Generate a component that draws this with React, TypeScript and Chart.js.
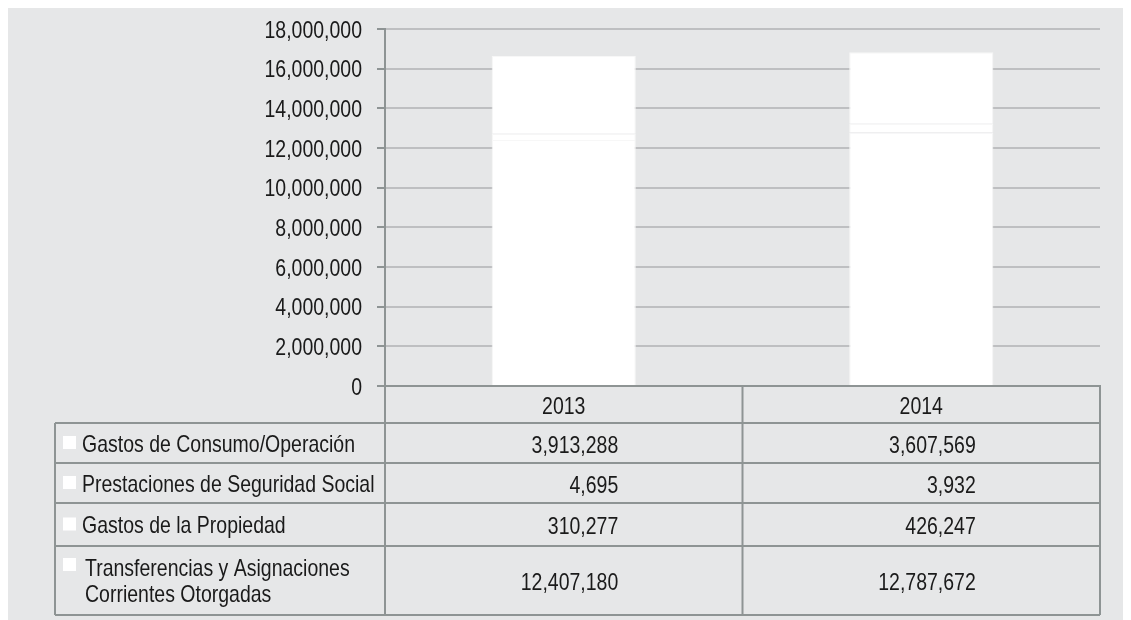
import React, { useEffect, useRef } from "react";
import { Chart, registerables } from "chart.js";

Chart.register(...registerables);

const categories = ["2013", "2014"];
const seriesNames = [
  "Gastos de Consumo/Operación",
  "Prestaciones de Seguridad Social",
  "Gastos de la Propiedad",
  "Transferencias y Asignaciones\nCorrientes Otorgadas",
];
const gastosConsumo = [3913288, 3607569];
const prestaciones = [4695, 3932];
const gastosPropiedad = [310277, 426247];
const transferencias = [12407180, 12787672];
const seriesValues = [gastosConsumo, prestaciones, gastosPropiedad, transferencias];
const yMax = 18000000;
const yStep = 2000000;

const FONT_FAMILY = "'Liberation Sans', Arial, sans-serif";
const FONT_SIZE = 24;
const SX = 0.812; // narrow (condensed) rendering
const TEXT = "#1a1a1a";
const BG = "#e6e7e8";
const GRID = "#bebfc1";
const AXIS = "#8e9494";

const fmt = (v: number) => v.toLocaleString("en-US");

// table geometry (px relative to chart area bottom)
const rowHeights = [37, 40, 40, 43, 69];
const TABLE_LEFT = 47;

function drawNarrow(ctx: any, text: string, x: number, y: number, align: string) {
  ctx.save();
  ctx.translate(x, y);
  ctx.scale(SX, 1);
  ctx.textAlign = align;
  ctx.fillText(text, 0, 0);
  ctx.restore();
}

const tablePlugin = {
  id: "dataTable",
  afterDraw(chart: any) {
    const ctx = chart.ctx;
    const area = chart.chartArea;
    const xs = chart.scales.x;
    const yScale = chart.scales.y;
    const top = area.bottom;
    const ys: number[] = [top];
    rowHeights.forEach((h) => ys.push(ys[ys.length - 1] + h));
    const bottom = ys[ys.length - 1];
    const midX = (xs.getPixelForValue(0) + xs.getPixelForValue(1)) / 2;
    ctx.save();
    ctx.strokeStyle = AXIS;
    ctx.lineWidth = 2;
    ctx.beginPath();
    ctx.moveTo(area.left, top);
    ctx.lineTo(area.right, top);
    for (let i = 1; i < ys.length; i++) {
      ctx.moveTo(TABLE_LEFT, ys[i]);
      ctx.lineTo(area.right, ys[i]);
    }
    ctx.moveTo(area.left, area.top);
    ctx.lineTo(area.left, bottom);
    ctx.moveTo(midX, top);
    ctx.lineTo(midX, bottom);
    ctx.moveTo(area.right, top);
    ctx.lineTo(area.right, bottom);
    ctx.moveTo(TABLE_LEFT, ys[1]);
    ctx.lineTo(TABLE_LEFT, bottom);
    ctx.stroke();

    ctx.font = `${FONT_SIZE}px ${FONT_FAMILY}`;
    ctx.fillStyle = TEXT;
    ctx.textBaseline = "middle";

    // y tick labels
    yScale.ticks.forEach((t: any) => {
      drawNarrow(ctx, fmt(t.value), area.left - 23, yScale.getPixelForValue(t.value) + 2, "right");
    });
    // x category labels (header row)
    categories.forEach((c, i) => {
      drawNarrow(ctx, c, xs.getPixelForValue(i), (ys[0] + ys[1]) / 2 + 3, "center");
    });

    const lineH = 26;
    seriesNames.forEach((name, r) => {
      const y0 = ys[r + 1];
      const y1 = ys[r + 2];
      const cy = (y0 + y1) / 2;
      const lines = name.split("\n");
      const firstY = cy - ((lines.length - 1) * lineH) / 2;
      ctx.fillStyle = "#ffffff";
      const keyY = lines.length > 1 ? y0 + 12 : cy - 7;
      ctx.fillRect(TABLE_LEFT + 8, keyY, 13, 13);
      ctx.fillStyle = TEXT;
      lines.forEach((ln, k) => {
        drawNarrow(ctx, ln, TABLE_LEFT + 27 + (lines.length > 1 ? 3 : 0), firstY + k * lineH + 2, "left");
      });
      seriesValues[r].forEach((v, c) => {
        drawNarrow(ctx, fmt(v), xs.getPixelForValue(c) + 54.5, cy + 3, "right");
      });
    });
    ctx.restore();
  },
};

export default function App() {
  const ref = useRef<HTMLCanvasElement>(null);
  useEffect(() => {
    if (!ref.current) return;
    const datasets = seriesNames
      .map((name, i) => ({
        label: name.replace("\n", " "),
        data: seriesValues[i],
        backgroundColor: "#ffffff",
        borderColor: "#f7f7f7",
        borderWidth: 1,
        categoryPercentage: 1,
        barPercentage: 0.403,
      }))
      .reverse();
    const chart = new Chart(ref.current, {
      type: "bar",
      data: { labels: categories, datasets },
      options: {
        animation: false,
        responsive: false,
        devicePixelRatio: 1,
        layout: { padding: { top: 21, right: 31, left: 0, bottom: 0 } },
        plugins: { legend: { display: false }, tooltip: { enabled: false } },
        scales: {
          x: {
            stacked: true,
            grid: { display: false },
            border: { display: true, color: AXIS, width: 2 },
            ticks: { display: false },
            afterFit: (s: any) => {
              s.height = rowHeights.reduce((a, b) => a + b, 0) + 5;
            },
          },
          y: {
            stacked: true,
            min: 0,
            max: yMax,
            grid: { color: GRID, lineWidth: 2, tickColor: AXIS, tickLength: 8 },
            border: { display: true, color: AXIS, width: 2 },
            ticks: { display: false, stepSize: yStep },
            afterFit: (s: any) => {
              s.width = 377;
            },
          },
        },
      },
      plugins: [tablePlugin],
    });
    return () => chart.destroy();
  }, []);
  return (
    <div style={{ width: 1123, height: 612, background: BG, position: "relative" }}>
      <canvas ref={ref} width={1123} height={612} />
    </div>
  );
}
